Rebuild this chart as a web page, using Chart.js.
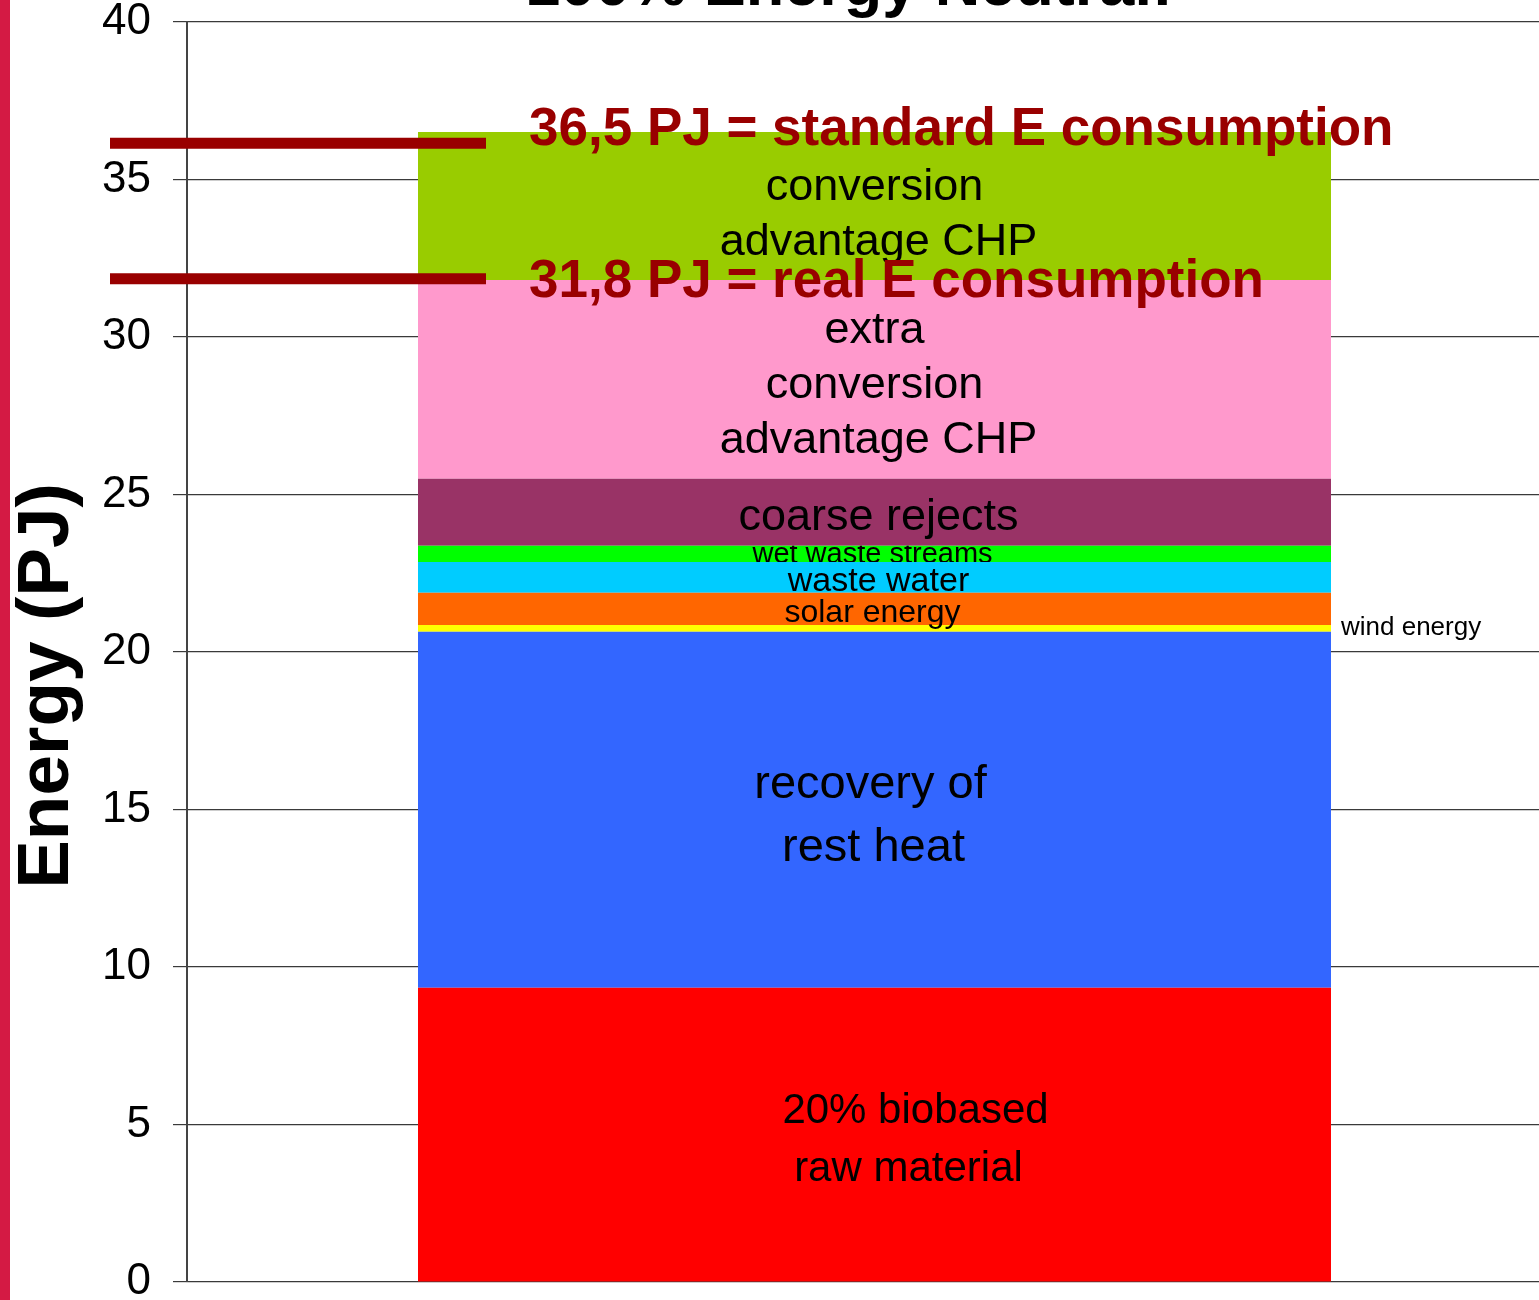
<!DOCTYPE html>
<html>
<head>
<meta charset="utf-8">
<script src="https://cdn.jsdelivr.net/npm/chart.js@4"></script>
<style>
  html, body { margin: 0; padding: 0; background: #fff; overflow: hidden; }
  #chart { position: absolute; left: 0; top: 0; }
</style>
</head>
<body>
<canvas id="chart" width="1562" height="1300"></canvas>
<script>
// ---- data (bottom segment first) ----
const categories = [''];
const segmentNames = ['20% biobased raw material', 'recovery of rest heat', 'wind energy', 'solar energy',
  'waste water', 'wet waste streams', 'coarse rejects', 'extra conversion advantage CHP', 'conversion advantage CHP'];
const segmentValues = [9.34, 11.3, 0.22, 1.02, 0.98, 0.51, 2.13, 6.31, 4.7];
const segmentColors = ['#FF0000', '#3366FF', '#FFFF00', '#FF6600', '#00CCFF', '#00FF00', '#993366', '#FF99CC', '#99CC00'];
const segmentLabelLines = [
  ['20% biobased', 'raw material'],
  ['recovery of', 'rest heat'],
  ['wind energy'],
  ['solar energy'],
  ['waste water'],
  ['wet waste streams'],
  ['coarse rejects'],
  ['extra', 'conversion', 'advantage CHP'],
  ['conversion', 'advantage CHP']
];
const yTicks = [0, 5, 10, 15, 20, 25, 30, 35, 40];
const refValues = [36.5, 31.8];
const refLineValues = [36.15, 31.85];
const refTexts = ['36,5 PJ = standard E consumption', '31,8 PJ = real E consumption'];
const titleText = '100% Energy Neutral!';
const yAxisTitle = 'Energy (PJ)';

const FONT = "'Liberation Sans', Arial, Helvetica, sans-serif";

// label look per segment (same order as the data)
const labelStyles = [
  { size: 42, gap: 58, dx: [41, 34], dy: 6 },
  { size: 47, gap: 63, dx: [-4, -1], dy: 7 },
  { size: 26, outside: true },
  { size: 32, gap: 0, dx: [-2], dy: 4 },
  { size: 34, gap: 0, dx: [4], dy: 4 },
  { size: 29, gap: 0, dx: [-2], dy: 1, clip: true },
  { size: 45, gap: 0, dx: [4], dy: 5 },
  { size: 45, gap: 55, dx: [0, 0, 4], dy: 6 },
  { size: 45, gap: 55, dx: [0, 4], dy: 9 }
];
const refTextOffsets = [13, 17];

const decor = {
  id: 'decor',
  beforeDraw(chart) {
    const ctx = chart.ctx;
    ctx.save();
    ctx.fillStyle = '#fff';
    ctx.fillRect(0, 0, chart.width, chart.height);
    ctx.fillStyle = '#D41A44';
    ctx.fillRect(0, 0, 10, chart.height);
    ctx.restore();
  },
  afterDatasetsDraw(chart) {
    const ctx = chart.ctx;
    const y = chart.scales.y;
    const area = chart.chartArea;
    ctx.save();
    ctx.fillStyle = '#000';
    ctx.textAlign = 'center';
    ctx.textBaseline = 'middle';

    segmentLabelLines.forEach((lines, i) => {
      const bar = chart.getDatasetMeta(i).data[0];
      const st = labelStyles[i];
      const top = bar.y, bottom = bar.base;
      const mid = (top + bottom) / 2;
      ctx.font = st.size + 'px ' + FONT;
      if (st.outside) {
        ctx.textAlign = 'left';
        ctx.fillText(lines[0], bar.x + bar.width / 2 + 10, mid - 1);
        ctx.textAlign = 'center';
        return;
      }
      ctx.save();
      if (st.clip) {
        ctx.beginPath();
        ctx.rect(bar.x - bar.width / 2, top, bar.width, bottom - top);
        ctx.clip();
      }
      const startY = mid + st.dy - (lines.length - 1) * st.gap / 2;
      lines.forEach((ln, k) => {
        ctx.fillText(ln, bar.x + st.dx[k], startY + k * st.gap);
      });
      ctx.restore();
    });

    // reference lines + texts
    const firstBar = chart.getDatasetMeta(0).data[0];
    const barLeft = firstBar.x - firstBar.width / 2;
    ctx.strokeStyle = '#990000';
    ctx.lineWidth = 11;
    refLineValues.forEach(v => {
      const py = y.getPixelForValue(v);
      ctx.beginPath();
      ctx.moveTo(110, py);
      ctx.lineTo(barLeft + 68, py);
      ctx.stroke();
    });
    ctx.fillStyle = '#990000';
    ctx.font = 'bold 53px ' + FONT;
    ctx.textAlign = 'left';
    ctx.textBaseline = 'alphabetic';
    refTexts.forEach((t, i) => {
      ctx.fillText(t, barLeft + 111, y.getPixelForValue(refValues[i]) + refTextOffsets[i]);
    });

    // title (cut off by the top edge)
    ctx.fillStyle = '#000';
    ctx.font = 'bold 63px ' + FONT;
    ctx.textAlign = 'center';
    ctx.fillText(titleText, 849, 5);

    // y axis title
    ctx.translate(68, (area.top + area.bottom) / 2 + 34);
    ctx.rotate(-Math.PI / 2);
    ctx.font = 'bold 73px ' + FONT;
    ctx.fillText(yAxisTitle, 0, 0);
    ctx.restore();
  }
};

new Chart(document.getElementById('chart'), {
  type: 'bar',
  data: {
    labels: categories,
    datasets: segmentNames.map((name, i) => ({
      label: name,
      data: [segmentValues[i]],
      backgroundColor: segmentColors[i],
      borderWidth: 0,
      barPercentage: 0.664,
      categoryPercentage: 1
    }))
  },
  options: {
    responsive: false,
    animation: false,
    devicePixelRatio: 1,
    layout: { padding: { top: 22, bottom: 18, left: 0, right: 0 } },
    plugins: {
      legend: { display: false },
      tooltip: { enabled: false },
      title: { display: false }
    },
    scales: {
      x: { stacked: true, display: false },
      y: {
        stacked: true,
        min: 0,
        max: 40,
        afterBuildTicks: s => { s.ticks = yTicks.map(v => ({ value: v })); },
        afterFit: s => { s.width = 187; s.paddingTop = 0; s.paddingBottom = 0; },
        grid: { color: '#3a3a3a', lineWidth: 1.2, tickLength: 14, drawTicks: true },
        border: { color: '#444', width: 2 },
        ticks: {
          color: '#000',
          padding: 22,
          font: { family: FONT, size: 44, lineHeight: 0.8 }
        }
      }
    }
  },
  plugins: [decor]
});
</script>
</body>
</html>
